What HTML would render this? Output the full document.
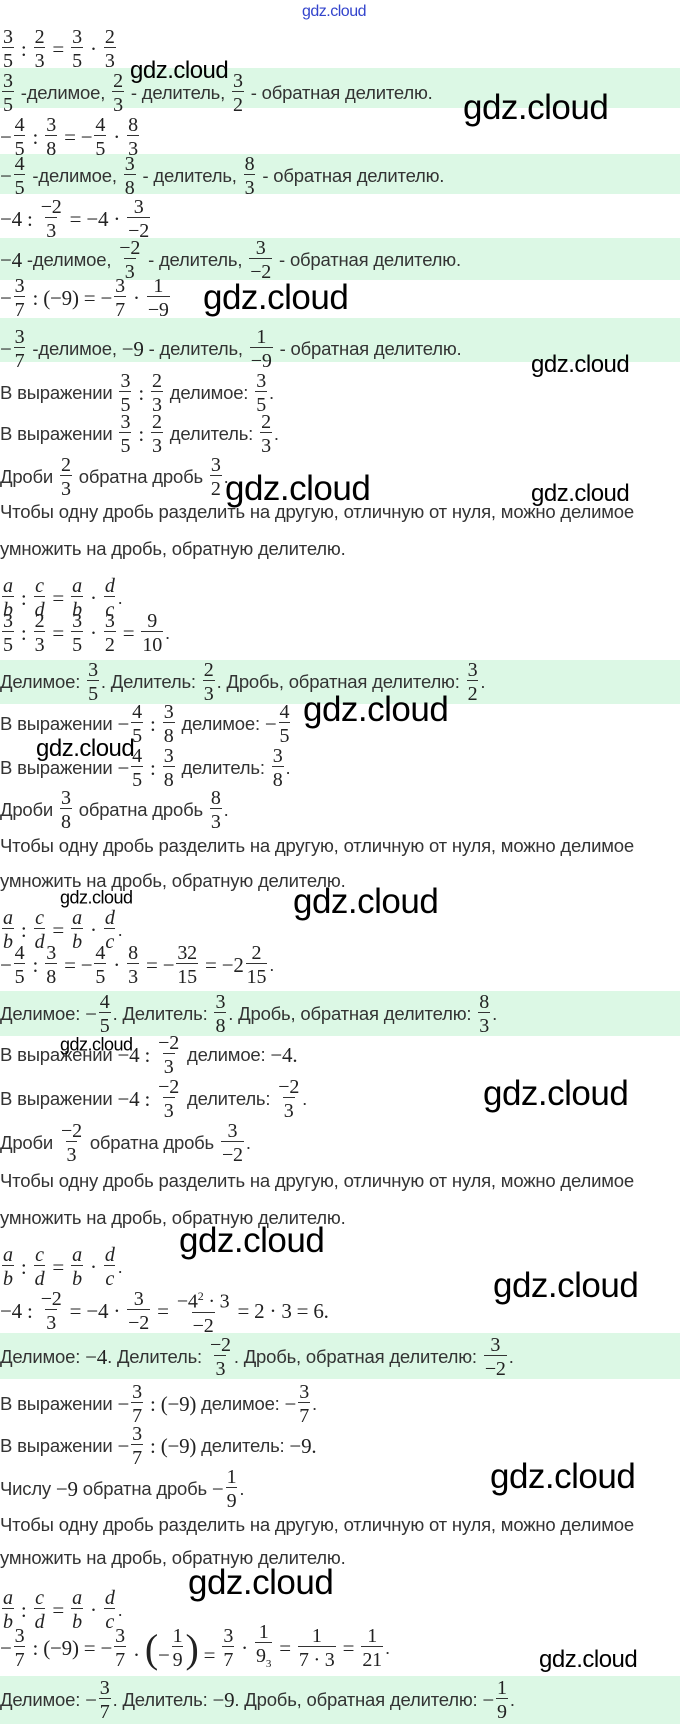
<!DOCTYPE html>
<html><head><meta charset="utf-8">
<style>
html,body{margin:0;padding:0}
body{width:680px;height:1724px;position:relative;background:#fff;overflow:hidden;font-family:"Liberation Sans",sans-serif;color:#333;font-size:18.5px}
.band{position:absolute;left:0;width:680px;background:#dcf8e5}
.l{position:absolute;left:0;height:44px;display:flex;align-items:center;white-space:nowrap;letter-spacing:-0.2px}
.m{font-family:"Liberation Serif",serif;font-size:21px;color:#222}
.i{font-style:italic}
.f{display:inline-flex;flex-direction:column;align-items:center;vertical-align:middle;margin:0 2px;font-family:"Liberation Serif",serif;font-size:20px;color:#222}
.f>span{display:block;line-height:20px;padding:0 1px}
.f>span+span{border-top:1px solid #333;padding-top:3px}
.w{position:absolute;font-family:"Liberation Sans",sans-serif;color:#000;white-space:nowrap;transform:translateY(-50%);letter-spacing:-0.5px}
.b{font-size:35px}
.s{font-size:24px}
.t{font-size:24px}
.x{font-size:18px}
</style></head><body>

<div class="band" style="top:68px;height:40px"></div>
<div class="band" style="top:154px;height:40px"></div>
<div class="band" style="top:238px;height:42px"></div>
<div class="band" style="top:318px;height:44px"></div>
<div class="band" style="top:660px;height:44px"></div>
<div class="band" style="top:991px;height:45px"></div>
<div class="band" style="top:1333px;height:46px"></div>
<div class="band" style="top:1676px;height:48px"></div>

<div class="w" style="left:302px;top:12px;font-size:16px;color:#3344cc">gdz.cloud</div>

<div class="l" style="top:27px"><span class="f"><span>3</span><span>5</span></span><span class="m">&nbsp;:&nbsp;</span><span class="f"><span>2</span><span>3</span></span><span class="m">&nbsp;=&nbsp;</span><span class="f"><span>3</span><span>5</span></span><span class="m">&nbsp;·&nbsp;</span><span class="f"><span>2</span><span>3</span></span></div>

<div class="l" style="top:71px"><span class="f"><span>3</span><span>5</span></span>&nbsp;-делимое,&nbsp;<span class="f"><span>2</span><span>3</span></span>&nbsp;- делитель,&nbsp;<span class="f"><span>3</span><span>2</span></span>&nbsp;- обратная делителю.</div>

<div class="l" style="top:115px"><span class="m">−</span><span class="f"><span>4</span><span>5</span></span><span class="m">&nbsp;:&nbsp;</span><span class="f"><span>3</span><span>8</span></span><span class="m">&nbsp;=&nbsp;−</span><span class="f"><span>4</span><span>5</span></span><span class="m">&nbsp;·&nbsp;</span><span class="f"><span>8</span><span>3</span></span></div>

<div class="l" style="top:154px"><span class="m">−</span><span class="f"><span>4</span><span>5</span></span>&nbsp;-делимое,&nbsp;<span class="f"><span>3</span><span>8</span></span>&nbsp;- делитель,&nbsp;<span class="f"><span>8</span><span>3</span></span>&nbsp;- обратная делителю.</div>

<div class="l" style="top:197px"><span class="m">−4&nbsp;:&nbsp;</span><span class="f"><span>−2</span><span>3</span></span><span class="m">&nbsp;=&nbsp;−4&nbsp;·&nbsp;</span><span class="f"><span>3</span><span>−2</span></span></div>

<div class="l" style="top:238px"><span class="m">−4</span>&nbsp;-делимое,&nbsp;<span class="f"><span>−2</span><span>3</span></span>&nbsp;- делитель,&nbsp;<span class="f"><span>3</span><span>−2</span></span>&nbsp;- обратная делителю.</div>

<div class="l" style="top:276px"><span class="m">−</span><span class="f"><span>3</span><span>7</span></span><span class="m">&nbsp;:&nbsp;(−9)&nbsp;=&nbsp;−</span><span class="f"><span>3</span><span>7</span></span><span class="m">&nbsp;·&nbsp;</span><span class="f"><span>1</span><span>−9</span></span></div>

<div class="l" style="top:327px"><span class="m">−</span><span class="f"><span>3</span><span>7</span></span>&nbsp;-делимое,&nbsp;<span class="m">−9</span>&nbsp;- делитель,&nbsp;<span class="f"><span>1</span><span>−9</span></span>&nbsp;- обратная делителю.</div>

<div class="l" style="top:371px">В выражении&nbsp;<span class="f"><span>3</span><span>5</span></span><span class="m">&nbsp;:&nbsp;</span><span class="f"><span>2</span><span>3</span></span>&nbsp;делимое:&nbsp;<span class="f"><span>3</span><span>5</span></span>.</div>
<div class="l" style="top:412px">В выражении&nbsp;<span class="f"><span>3</span><span>5</span></span><span class="m">&nbsp;:&nbsp;</span><span class="f"><span>2</span><span>3</span></span>&nbsp;делитель:&nbsp;<span class="f"><span>2</span><span>3</span></span>.</div>
<div class="l" style="top:455px">Дроби&nbsp;<span class="f"><span>2</span><span>3</span></span>&nbsp;обратна дробь&nbsp;<span class="f"><span>3</span><span>2</span></span>.</div>
<div class="l" style="top:490px">Чтобы одну дробь разделить на другую, отличную от нуля, можно делимое</div>
<div class="l" style="top:527px">умножить на дробь, обратную делителю.</div>
<div class="l" style="top:576px"><span class="f i"><span>a</span><span>b</span></span><span class="m">&nbsp;:&nbsp;</span><span class="f i"><span>c</span><span>d</span></span><span class="m">&nbsp;=&nbsp;</span><span class="f i"><span>a</span><span>b</span></span><span class="m">&nbsp;·&nbsp;</span><span class="f i"><span>d</span><span>c</span></span>.</div>
<div class="l" style="top:611px"><span class="f"><span>3</span><span>5</span></span><span class="m">&nbsp;:&nbsp;</span><span class="f"><span>2</span><span>3</span></span><span class="m">&nbsp;=&nbsp;</span><span class="f"><span>3</span><span>5</span></span><span class="m">&nbsp;·&nbsp;</span><span class="f"><span>3</span><span>2</span></span><span class="m">&nbsp;=&nbsp;</span><span class="f"><span>9</span><span>10</span></span>.</div>
<div class="l" style="top:660px">Делимое:&nbsp;<span class="f"><span>3</span><span>5</span></span>. Делитель:&nbsp;<span class="f"><span>2</span><span>3</span></span>. Дробь, обратная делителю:&nbsp;<span class="f"><span>3</span><span>2</span></span>.</div>

<div class="l" style="top:702px">В выражении&nbsp;<span class="m">−</span><span class="f"><span>4</span><span>5</span></span><span class="m">&nbsp;:&nbsp;</span><span class="f"><span>3</span><span>8</span></span>&nbsp;делимое:&nbsp;<span class="m">−</span><span class="f"><span>4</span><span>5</span></span></div>
<div class="l" style="top:746px">В выражении&nbsp;<span class="m">−</span><span class="f"><span>4</span><span>5</span></span><span class="m">&nbsp;:&nbsp;</span><span class="f"><span>3</span><span>8</span></span>&nbsp;делитель:&nbsp;<span class="f"><span>3</span><span>8</span></span>.</div>
<div class="l" style="top:788px">Дроби&nbsp;<span class="f"><span>3</span><span>8</span></span>&nbsp;обратна дробь&nbsp;<span class="f"><span>8</span><span>3</span></span>.</div>
<div class="l" style="top:824px">Чтобы одну дробь разделить на другую, отличную от нуля, можно делимое</div>
<div class="l" style="top:859px">умножить на дробь, обратную делителю.</div>
<div class="l" style="top:908px"><span class="f i"><span>a</span><span>b</span></span><span class="m">&nbsp;:&nbsp;</span><span class="f i"><span>c</span><span>d</span></span><span class="m">&nbsp;=&nbsp;</span><span class="f i"><span>a</span><span>b</span></span><span class="m">&nbsp;·&nbsp;</span><span class="f i"><span>d</span><span>c</span></span>.</div>
<div class="l" style="top:943px"><span class="m">−</span><span class="f"><span>4</span><span>5</span></span><span class="m">&nbsp;:&nbsp;</span><span class="f"><span>3</span><span>8</span></span><span class="m">&nbsp;=&nbsp;−</span><span class="f"><span>4</span><span>5</span></span><span class="m">&nbsp;·&nbsp;</span><span class="f"><span>8</span><span>3</span></span><span class="m">&nbsp;=&nbsp;−</span><span class="f"><span>32</span><span>15</span></span><span class="m">&nbsp;=&nbsp;−2</span><span class="f"><span>2</span><span>15</span></span>.</div>
<div class="l" style="top:992px">Делимое:&nbsp;<span class="m">−</span><span class="f"><span>4</span><span>5</span></span>. Делитель:&nbsp;<span class="f"><span>3</span><span>8</span></span>. Дробь, обратная делителю:&nbsp;<span class="f"><span>8</span><span>3</span></span>.</div>

<div class="l" style="top:1033px">В выражении&nbsp;<span class="m">−4&nbsp;:&nbsp;</span><span class="f"><span>−2</span><span>3</span></span>&nbsp;делимое:&nbsp;<span class="m">−4.</span></div>
<div class="l" style="top:1077px">В выражении&nbsp;<span class="m">−4&nbsp;:&nbsp;</span><span class="f"><span>−2</span><span>3</span></span>&nbsp;делитель:&nbsp;<span class="f"><span>−2</span><span>3</span></span>.</div>
<div class="l" style="top:1121px">Дроби&nbsp;<span class="f"><span>−2</span><span>3</span></span>&nbsp;обратна дробь&nbsp;<span class="f"><span>3</span><span>−2</span></span>.</div>
<div class="l" style="top:1159px">Чтобы одну дробь разделить на другую, отличную от нуля, можно делимое</div>
<div class="l" style="top:1196px">умножить на дробь, обратную делителю.</div>
<div class="l" style="top:1245px"><span class="f i"><span>a</span><span>b</span></span><span class="m">&nbsp;:&nbsp;</span><span class="f i"><span>c</span><span>d</span></span><span class="m">&nbsp;=&nbsp;</span><span class="f i"><span>a</span><span>b</span></span><span class="m">&nbsp;·&nbsp;</span><span class="f i"><span>d</span><span>c</span></span>.</div>
<div class="l" style="top:1289px"><span class="m">−4&nbsp;:&nbsp;</span><span class="f"><span>−2</span><span>3</span></span><span class="m">&nbsp;=&nbsp;−4&nbsp;·&nbsp;</span><span class="f"><span>3</span><span>−2</span></span><span class="m">&nbsp;=&nbsp;</span><span class="f"><span>−4<sup style="font-size:12px">2</sup>&nbsp;·&nbsp;3</span><span>−2</span></span><span class="m">&nbsp;=&nbsp;2&nbsp;·&nbsp;3&nbsp;=&nbsp;6.</span></div>
<div class="l" style="top:1335px">Делимое:&nbsp;<span class="m">−4</span>. Делитель:&nbsp;<span class="f"><span>−2</span><span>3</span></span>. Дробь, обратная делителю:&nbsp;<span class="f"><span>3</span><span>−2</span></span>.</div>

<div class="l" style="top:1382px">В выражении&nbsp;<span class="m">−</span><span class="f"><span>3</span><span>7</span></span><span class="m">&nbsp;:&nbsp;(−9)</span>&nbsp;делимое:&nbsp;<span class="m">−</span><span class="f"><span>3</span><span>7</span></span>.</div>
<div class="l" style="top:1424px">В выражении&nbsp;<span class="m">−</span><span class="f"><span>3</span><span>7</span></span><span class="m">&nbsp;:&nbsp;(−9)</span>&nbsp;делитель:&nbsp;<span class="m">−9.</span></div>
<div class="l" style="top:1467px">Числу&nbsp;<span class="m">−9</span>&nbsp;обратна дробь&nbsp;<span class="m">−</span><span class="f"><span>1</span><span>9</span></span>.</div>
<div class="l" style="top:1503px">Чтобы одну дробь разделить на другую, отличную от нуля, можно делимое</div>
<div class="l" style="top:1536px">умножить на дробь, обратную делителю.</div>
<div class="l" style="top:1588px"><span class="f i"><span>a</span><span>b</span></span><span class="m">&nbsp;:&nbsp;</span><span class="f i"><span>c</span><span>d</span></span><span class="m">&nbsp;=&nbsp;</span><span class="f i"><span>a</span><span>b</span></span><span class="m">&nbsp;·&nbsp;</span><span class="f i"><span>d</span><span>c</span></span>.</div>
<div class="l" style="top:1626px"><span class="m">−</span><span class="f"><span>3</span><span>7</span></span><span class="m">&nbsp;:&nbsp;(−9)&nbsp;=&nbsp;−</span><span class="f"><span>3</span><span>7</span></span><span class="m">&nbsp;·&nbsp;<span style="font-size:40px;font-weight:300">(</span>−</span><span class="f"><span>1</span><span>9</span></span><span class="m"><span style="font-size:40px;font-weight:300">)</span>&nbsp;=&nbsp;</span><span class="f"><span>3</span><span>7</span></span><span class="m">&nbsp;·&nbsp;</span><span class="f"><span>1</span><span>9<sub style="font-size:11px">3</sub></span></span><span class="m">&nbsp;=&nbsp;</span><span class="f"><span>1</span><span>7&nbsp;·&nbsp;3</span></span><span class="m">&nbsp;=&nbsp;</span><span class="f"><span>1</span><span>21</span></span>.</div>
<div class="l" style="top:1678px">Делимое:&nbsp;<span class="m">−</span><span class="f"><span>3</span><span>7</span></span>. Делитель:&nbsp;<span class="m">−9</span>. Дробь, обратная делителю:&nbsp;<span class="m">−</span><span class="f"><span>1</span><span>9</span></span>.</div>

<!-- watermarks -->
<div class="w t" style="left:130px;top:71px">gdz.cloud</div>
<div class="w b" style="left:463px;top:108px">gdz.cloud</div>
<div class="w b" style="left:203px;top:298px">gdz.cloud</div>
<div class="w s" style="left:531px;top:365px">gdz.cloud</div>
<div class="w b" style="left:225px;top:489px">gdz.cloud</div>
<div class="w s" style="left:531px;top:494px">gdz.cloud</div>
<div class="w b" style="left:303px;top:710px">gdz.cloud</div>
<div class="w t" style="left:36px;top:749px">gdz.cloud</div>
<div class="w x" style="left:60px;top:898px">gdz.cloud</div>
<div class="w b" style="left:293px;top:902px">gdz.cloud</div>
<div class="w x" style="left:60px;top:1045px">gdz.cloud</div>
<div class="w b" style="left:483px;top:1094px">gdz.cloud</div>
<div class="w b" style="left:179px;top:1241px">gdz.cloud</div>
<div class="w b" style="left:493px;top:1286px">gdz.cloud</div>
<div class="w b" style="left:490px;top:1477px">gdz.cloud</div>
<div class="w b" style="left:188px;top:1583px">gdz.cloud</div>
<div class="w s" style="left:539px;top:1660px">gdz.cloud</div>
</body></html>
